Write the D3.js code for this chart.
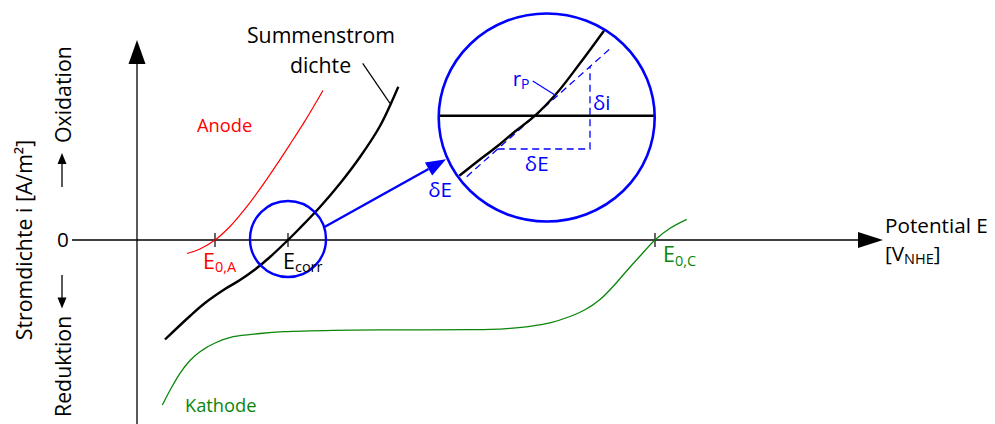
<!DOCTYPE html>
<html>
<head>
<meta charset="utf-8">
<script src="https://cdn.jsdelivr.net/npm/d3@7"></script>
<style>
  html, body { margin: 0; padding: 0; background: #fff; }
  svg { display: block; font-family: "Open Sans", "DejaVu Sans", sans-serif; }
</style>
</head>
<body>
<svg id="chart" width="995" height="424"></svg>
<script>
// Potential E (arbitrary units) and current density i (arbitrary units)
const E0A = 7.8, Ecorr = 15.1, E0C = 51.8;
const axisTicks = [E0A, Ecorr, E0C];

// Partial anodic current density (oxidation)
const anodeE = [5.0, 6.3, 7.8, 9.3, 10.8, 12.3, 13.8, 15.3, 16.8, 18.6];
const anodeI = [-1.35, -0.9, 0, 1.35, 3.11, 5.11, 7.29, 9.57, 11.91, 14.95];

// Summed current density
const sumE = [2.8, 5.3, 6.8, 8.8, 10.3, 11.8, 13.3, 15.1, 16.3, 18.3, 20.3, 22.3, 24.3, 26.13];
const sumI = [-9.95, -7.6, -6.3, -4.9, -4.0, -2.95, -1.7, 0, 1.2, 3.3, 5.65, 8.3, 11.4, 15.33];

// Partial cathodic current density (reduction)
const cathE = [2.53, 3.4, 4.3, 5.3, 6.3, 7.8, 9.63, 12.3, 14.63, 19.63, 26.3, 33.3, 35.3, 37.3, 39.3, 41.3, 43.3, 44.8, 46.3, 47.6, 49.0, 50.4, 51.8, 53.3, 54.97];
const cathI = [-16.5, -14.85, -13.33, -12.05, -11.17, -10.3, -9.67, -9.35, -9.17, -9.03, -8.99, -8.97, -8.94, -8.83, -8.63, -8.28, -7.65, -6.98, -5.95, -4.65, -3.05, -1.5, 0, 1.17, 2.07];

// Magnified neighbourhood of E_corr (local δE, δi)
const zoomE = [-7.57, -5.7, -3.83, -2.0, 0, 2.17, 4.5, 6.9];
const zoomI = [-6.0, -4.53, -3.1, -1.58, 0, 2.24, 5.24, 8.5];
const tangentSlope = 0.893;          // δi/δE = 1/r_P
const tangentE = [-6.83, 7.43];
const triangleE = [-3.73, 5.5];

const svg = d3.select("#chart");
const x = d3.scaleLinear().domain([0, 74.6]).range([137, 883]);
const y = d3.scaleLinear().domain([-18.4, 20]).range([424, 40]);

const line = d3.line().x(d => x(d[0])).y(d => y(d[1])).curve(d3.curveCatmullRom.alpha(0.5));
const zip = (a, b) => a.map((v, k) => [v, b[k]]);

// ---- axes ----
const axisColor = "#000";
svg.append("line").attr("x1", x(-6.5)).attr("x2", x(72.2)).attr("y1", y(0)).attr("y2", y(0))
  .attr("stroke", axisColor).attr("stroke-width", 1.3);
svg.append("path").attr("d", `M${x(74.6)},${y(0)} L${x(72.1)},${y(0) - 8} L${x(72.1)},${y(0) + 8} Z`).attr("fill", axisColor);
svg.append("line").attr("x1", x(0)).attr("x2", x(0)).attr("y1", y(-18.4)).attr("y2", y(17.8))
  .attr("stroke", axisColor).attr("stroke-width", 1.3);
svg.append("path").attr("d", `M${x(0)},${y(20)} L${x(0) - 8.5},${y(17.6)} L${x(0) + 8.5},${y(17.6)} Z`).attr("fill", axisColor);

svg.selectAll("line.tick").data(axisTicks).enter().append("line").attr("class", "tick")
  .attr("x1", d => x(d)).attr("x2", d => x(d)).attr("y1", y(0) - 7).attr("y2", y(0) + 7)
  .attr("stroke", "#000").attr("stroke-width", 1.2);

// ---- curves ----
svg.append("path").attr("d", line(zip(cathE, cathI))).attr("fill", "none").attr("stroke", "#0a860a").attr("stroke-width", 1.3);
svg.append("path").attr("d", line(zip(anodeE, anodeI))).attr("fill", "none").attr("stroke", "#ff0000").attr("stroke-width", 1.2);
svg.append("path").attr("d", line(zip(sumE, sumI))).attr("fill", "none").attr("stroke", "#000").attr("stroke-width", 2.4);

// ---- lens around E_corr and magnified view ----
const blue = "#0000ff";
svg.append("circle").attr("cx", x(Ecorr)).attr("cy", y(0) - 1).attr("r", 38)
  .attr("fill", "none").attr("stroke", blue).attr("stroke-width", 2.4);

const lens = { cx: 546.7, cy: 117.5, rx: 108, ry: 104 };
const zx = d3.scaleLinear().domain([0, 1]).range([535, 545]);
const zy = d3.scaleLinear().domain([0, 1]).range([115.7, 105.7]);
const zline = d3.line().x(d => zx(d[0])).y(d => zy(d[1])).curve(d3.curveCatmullRom.alpha(0.5));

// connector arrow
const a0 = [324, 227.3], a1 = [446, 159.3];
const ang = Math.atan2(a1[1] - a0[1], a1[0] - a0[0]);
const hl = 20, hw = 7.5;
const bx = a1[0] - hl * Math.cos(ang), by = a1[1] - hl * Math.sin(ang);
svg.append("line").attr("x1", a0[0]).attr("y1", a0[1]).attr("x2", bx).attr("y2", by)
  .attr("stroke", blue).attr("stroke-width", 2.4);
svg.append("path").attr("fill", blue).attr("d",
  `M${a1[0]},${a1[1]} L${bx - hw * Math.sin(ang)},${by + hw * Math.cos(ang)} L${bx + hw * Math.sin(ang)},${by - hw * Math.cos(ang)} Z`);

// potential axis inside the lens
const zy0 = zy(0);
const hx = lens.rx * Math.sqrt(1 - Math.pow((zy0 - lens.cy) / lens.ry, 2));
svg.append("line").attr("x1", lens.cx - hx).attr("x2", lens.cx + hx).attr("y1", zy0).attr("y2", zy0)
  .attr("stroke", "#000").attr("stroke-width", 2.4);

// tangent and slope triangle
const dash = "7,4.5";
svg.append("line").attr("x1", zx(tangentE[0])).attr("y1", zy(tangentE[0] * tangentSlope))
  .attr("x2", zx(tangentE[1])).attr("y2", zy(tangentE[1] * tangentSlope))
  .attr("stroke", blue).attr("stroke-width", 1.3).attr("stroke-dasharray", dash);
svg.append("path").attr("fill", "none").attr("stroke", blue).attr("stroke-width", 1.3).attr("stroke-dasharray", dash)
  .attr("d", `M${zx(triangleE[0])},${zy(triangleE[0] * tangentSlope)} L${zx(triangleE[1])},${zy(triangleE[0] * tangentSlope)} L${zx(triangleE[1])},${zy(triangleE[1] * tangentSlope)}`);

svg.append("path").attr("d", zline(zip(zoomE, zoomI))).attr("fill", "none").attr("stroke", "#000").attr("stroke-width", 2.4);

svg.append("ellipse").attr("cx", lens.cx).attr("cy", lens.cy).attr("rx", lens.rx).attr("ry", lens.ry)
  .attr("fill", "none").attr("stroke", blue).attr("stroke-width", 2.6);

// r_P leader
svg.append("line").attr("x1", 532.7).attr("y1", 81).attr("x2", 555).attr("y2", 95)
  .attr("stroke", blue).attr("stroke-width", 1.2);
// leader for summed current label
svg.append("line").attr("x1", 362.7).attr("y1", 63.3).attr("x2", x(25.3)).attr("y2", 103.3)
  .attr("stroke", "#000").attr("stroke-width", 1.2);

// ---- text ----
function label(px, py, str, opts = {}) {
  const t = svg.append("text").attr("x", px).attr("y", py)
    .attr("font-size", opts.size || 21.3).attr("fill", opts.color || "#000")
    .attr("text-anchor", opts.anchor || "start");
  if (opts.rotate) t.attr("transform", `rotate(${opts.rotate},${px},${py})`);
  t.append("tspan").text(str);
  if (opts.sub) {
    t.append("tspan").attr("font-size", opts.subSize || 14.5).attr("dy", opts.subDy || 3.8).text(opts.sub);
  }
  return t;
}

label(321, 43, "Summenstrom", { anchor: "middle" });
label(320.5, 72.7, "dichte", { anchor: "middle" });
label(197, 132, "Anode", { color: "#ff0000", size: 18.3 });
label(185, 412, "Kathode", { color: "#0a860a", size: 18.3 });
label(203, 268.5, "E", { color: "#ff0000", size: 21.5, sub: "0,A" });
label(283, 268.5, "E", { size: 21.5, sub: "corr" });
label(663, 262, "E", { color: "#0a860a", size: 21.5, sub: "0,C" });
label(885, 233, "Potential E", { size: 20.7 });
label(885, 261, "[V", { size: 20.7, sub: "NHE", subSize: 14.5, subDy: 3 }).append("tspan").attr("dy", -3).text("]");
label(63, 247, "0", { anchor: "middle", size: 20.7 });

label(32, 240, "Stromdichte i [A/m²]", { anchor: "middle", rotate: -90 });
label(70.5, 143, "Oxidation", { rotate: -90 });
label(70.5, 417, "Reduktion", { rotate: -90 });

// direction arrows next to the current-density label
function smallArrow(xc, yFrom, yTip) {
  const s = Math.sign(yTip - yFrom);
  svg.append("line").attr("x1", xc).attr("x2", xc).attr("y1", yFrom).attr("y2", yTip - s * 10)
    .attr("stroke", "#000").attr("stroke-width", 1.3);
  svg.append("path").attr("fill", "#000")
    .attr("d", `M${xc},${yTip} L${xc - 4.5},${yTip - s * 11} L${xc + 4.5},${yTip - s * 11} Z`);
}
smallArrow(62, 187, 153);
smallArrow(62, 275, 308.5);

label(593, 110, "δi", { color: blue, size: 20.5 });
label(536.7, 170.7, "δE", { color: blue, size: 20.5, anchor: "middle" });
label(428.3, 197, "δE", { color: blue, size: 20.5 });
label(512.7, 85.7, "r", { color: blue, size: 20.5, sub: "P", subSize: 14, subDy: 3.6 });
</script>
</body>
</html>
